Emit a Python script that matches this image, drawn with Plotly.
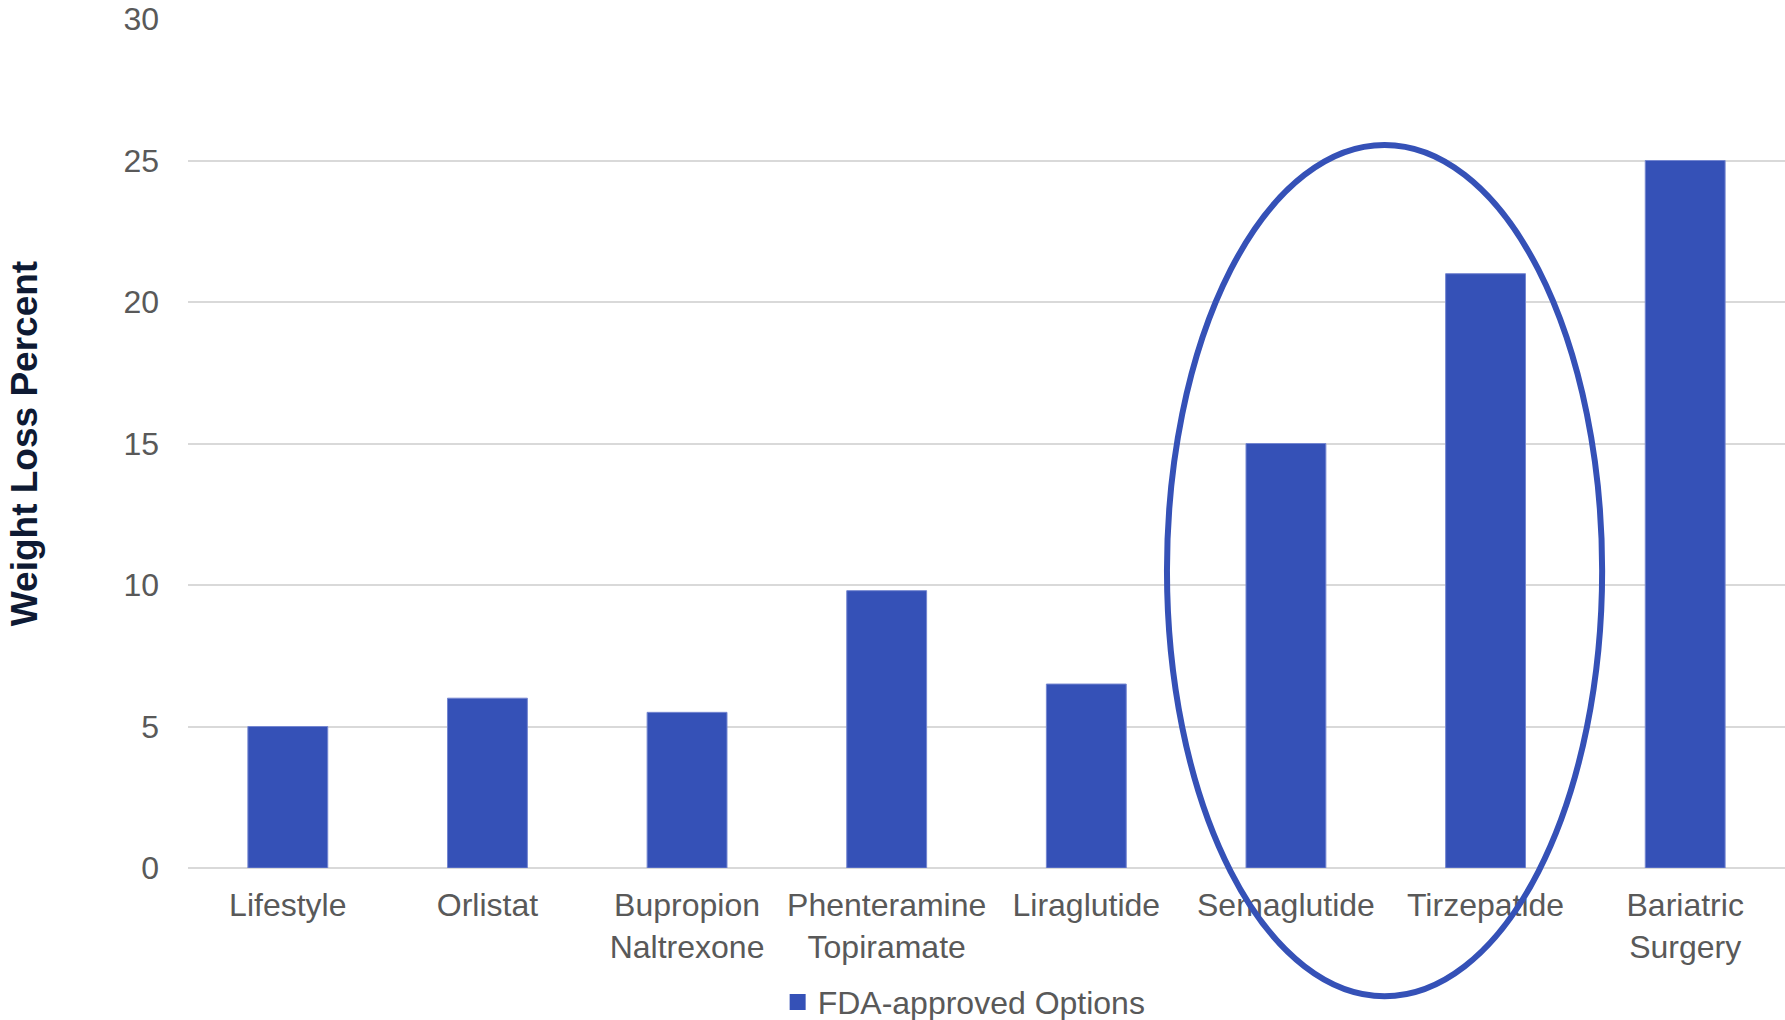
import plotly.graph_objects as go

# Average weight loss by treatment option
categories = [
    "Lifestyle",
    "Orlistat",
    "Bupropion<br>Naltrexone",
    "Phenteramine<br>Topiramate",
    "Liraglutide",
    "Semaglutide",
    "Tirzepatide",
    "Bariatric<br>Surgery",
]
weight_loss = [5, 6, 5.5, 9.8, 6.5, 15, 21, 25]
y_ticks = [0, 5, 10, 15, 20, 25, 30]
series_name = "FDA-approved Options"

BAR_BLUE = "#3551B7"
FONT = "Liberation Sans, Arial, sans-serif"

fig = go.Figure()
fig.add_trace(
    go.Bar(
        x=categories,
        y=weight_loss,
        name=series_name,
        marker=dict(color=BAR_BLUE, line=dict(color="#7486d0", width=1)),
        showlegend=False,
    )
)

# Legend key: a filled square for the series
fig.add_trace(
    go.Scatter(
        x=[None],
        y=[None],
        mode="markers",
        name=series_name,
        marker=dict(symbol="square", size=16, color=BAR_BLUE),
        showlegend=True,
    )
)

# Highlight ring around the GLP-1 class (Semaglutide and Tirzepatide)
fig.add_shape(
    type="circle",
    xref="paper",
    yref="paper",
    x0=0.613,
    x1=0.8855,
    y0=-0.151,
    y1=0.8515,
    line=dict(color=BAR_BLUE, width=6),
    layer="above",
)

fig.update_layout(
    width=1785,
    height=1020,
    margin=dict(l=188, r=0, t=19, b=152, autoexpand=False),
    paper_bgcolor="white",
    plot_bgcolor="white",
    bargap=0.6,
    font=dict(family=FONT, size=32, color="#595959"),
    xaxis=dict(
        showgrid=False,
        showline=False,
        ticks="",
        tickfont=dict(size=32, color="#595959"),
        ticklabelstandoff=15,
    ),
    yaxis=dict(
        range=[0, 30],
        tickvals=y_ticks,
        showgrid=True,
        gridcolor="#d9d9d9",
        gridwidth=2,
        zeroline=True,
        zerolinecolor="#d9d9d9",
        zerolinewidth=2,
        showline=False,
        ticks="",
        tickfont=dict(size=32, color="#595959"),
        ticklabelstandoff=28,
        title=dict(
            text="<b>Weight Loss Percent</b>",
            font=dict(size=37, color="#0E1A33", family=FONT),
            standoff=74,
        ),
    ),
    legend=dict(
        orientation="h",
        x=0.486,
        xanchor="center",
        y=-0.158,
        yanchor="middle",
        font=dict(size=32, color="#595959"),
        itemwidth=30,
        bgcolor="rgba(0,0,0,0)",
    ),
)

fig.write_html("out.html")
